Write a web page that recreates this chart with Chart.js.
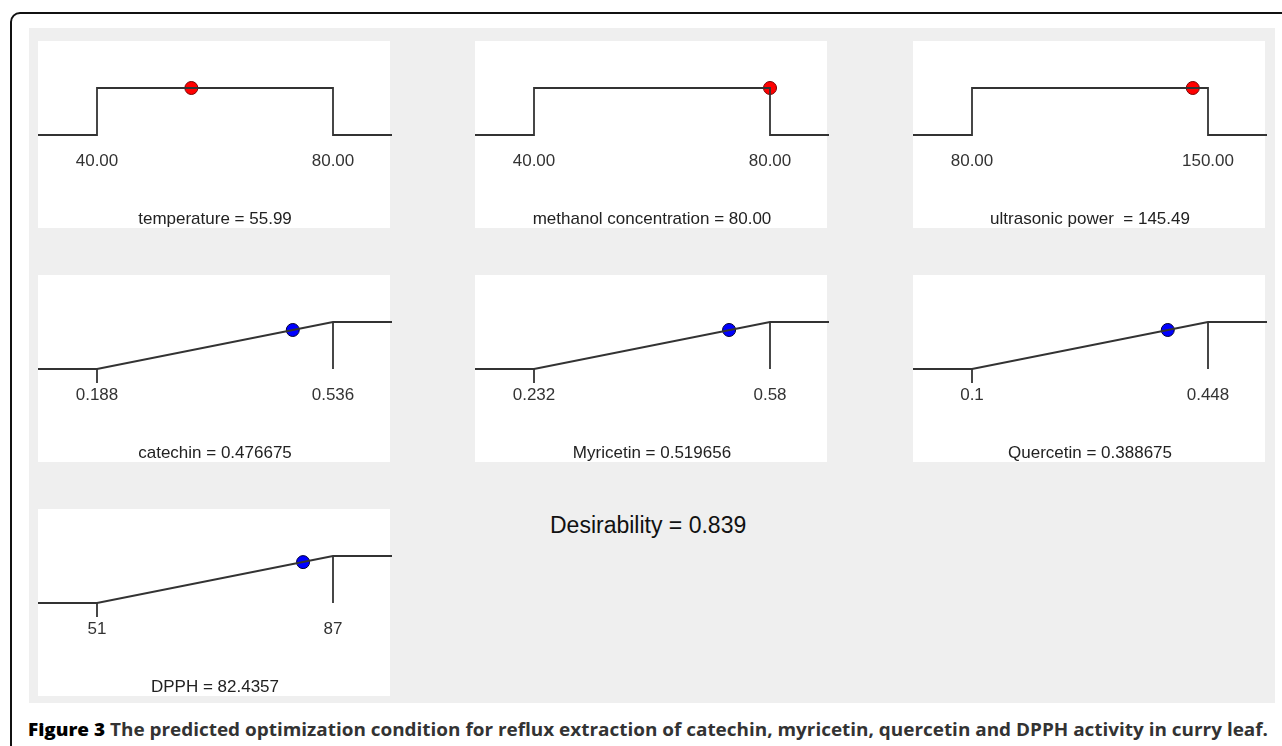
<!DOCTYPE html>
<html>
<head>
<meta charset="utf-8">
<script src="https://cdn.jsdelivr.net/npm/chart.js@4.4.1/dist/chart.umd.min.js"></script>
<style>
body { margin: 0; width: 1282px; height: 746px; overflow: hidden; background: #fff; position: relative; font-family: "Liberation Sans", Arial, sans-serif; }
#frame { position: absolute; left: 10px; top: 12px; width: 1320px; height: 800px; border: 2px solid #111; border-radius: 10px; }
#grey { position: absolute; left: 29px; top: 28px; width: 1246px; height: 675px; background: #efefef; }
.panel { position: absolute; width: 352px; height: 187px; background: #fff; }
.panel .cw { position: absolute; left: 0; top: 0; width: 354px; height: 187px; }
#desir { position: absolute; left: 550px; top: 512px; font-size: 23px; color: #111; white-space: nowrap; }
#caption { position: absolute; left: 28px; top: 718px; font-family: "Open Sans", sans-serif; font-weight: bold; font-size: 17px; color: #333; white-space: nowrap; transform-origin: 0 0; }
#caption b { color: #000; }
</style>
</head>
<body>
<div id="frame"></div>
<div id="grey"></div>
<div id="desir">Desirability = 0.839</div>
<div id="caption"><b>Figure 3</b> The predicted optimization condition for reflux extraction of catechin, myricetin, quercetin and DPPH activity in curry leaf.</div>

<script>
// --- DATOS ---
const factors = ['temperature', 'methanol concentration', 'ultrasonic power ', 'catechin', 'Myricetin', 'Quercetin', 'DPPH'];
const goals = ['range', 'range', 'range', 'max', 'max', 'max', 'max'];
const lows = [40, 40, 80, 0.188, 0.232, 0.1, 51];
const highs = [80, 80, 150, 0.536, 0.58, 0.448, 87];
const lowLabels = ['40.00', '40.00', '80.00', '0.188', '0.232', '0.1', '51'];
const highLabels = ['80.00', '80.00', '150.00', '0.536', '0.58', '0.448', '87'];
const optValues = [55.99, 80.00, 145.49, 0.476675, 0.519656, 0.388675, 82.4357];
const optLabels = ['55.99', '80.00', '145.49', '0.476675', '0.519656', '0.388675', '82.4357'];
const desirValues = [1, 1, 1, 0.83, 0.83, 0.83, 0.87];

// layout of the white panels (left, top)
const slots = [[38, 41], [475, 41], [913, 41], [38, 275], [475, 275], [913, 275], [38, 509]];

const lineColor = '#333';
const fontFam = '"Liberation Sans", Arial, sans-serif';

function makePanel(i) {
    const div = document.createElement('div');
    div.className = 'panel';
    div.style.left = slots[i][0] + 'px';
    div.style.top = slots[i][1] + 'px';
    const wrap = document.createElement('div');
    wrap.className = 'cw';
    const cv = document.createElement('canvas');
    wrap.appendChild(cv);
    div.appendChild(wrap);
    document.body.appendChild(div);

    const lo = lows[i], hi = highs[i], pad = (hi - lo) * 0.25;
    const xMin = lo - pad, xMax = hi + pad;
    const lineStyle = { borderColor: lineColor, borderWidth: 1.8, pointRadius: 0, tension: 0, fill: false, clip: false };

    let datasets;
    if (goals[i] === 'range') {
        datasets = [
            { ...lineStyle, data: [{ x: xMin, y: 0 }, { x: lo, y: 0 }, { x: lo, y: 1 }, { x: hi, y: 1 }, { x: hi, y: 0 }, { x: xMax, y: 0 }] }
        ];
    } else {
        datasets = [
            { ...lineStyle, data: [{ x: xMin, y: 0 }, { x: lo, y: 0 }, { x: hi, y: 1 }, { x: xMax, y: 1 }] },
            { ...lineStyle, data: [{ x: hi, y: 1 }, { x: hi, y: 0 }] },
            { ...lineStyle, data: [{ x: lo, y: 0 }, { x: lo, y: -0.3 }] }
        ];
    }
    const dotColor = goals[i] === 'range' ? '#ff0000' : '#0000ff';
    datasets.push({
        data: [{ x: optValues[i], y: desirValues[i] }],
        showLine: false, clip: false,
        pointRadius: 6.5, pointBackgroundColor: dotColor,
        pointBorderColor: goals[i] === 'range' ? '#700' : '#003', pointBorderWidth: 1
    });

    new Chart(cv, {
        type: 'line',
        data: { datasets },
        options: {
            responsive: true, maintainAspectRatio: false, animation: false,
            layout: { padding: 0, autoPadding: false },
            plugins: {
                legend: { display: false },
                tooltip: { enabled: false },
                title: {
                    display: true, position: 'bottom',
                    text: factors[i] + ' = ' + optLabels[i],
                    color: '#222',
                    font: { family: fontFam, size: 17, weight: 'normal', lineHeight: 1 },
                    padding: { top: 0, bottom: 0 }
                }
            },
            scales: {
                x: {
                    type: 'linear', min: xMin, max: xMax,
                    position: { y: -0.25 },
                    grid: { display: false, drawTicks: false },
                    border: { display: false },
                    afterBuildTicks: s => { s.ticks = [{ value: lo }, { value: hi }]; },
                    ticks: {
                        autoSkip: false, maxRotation: 0, padding: 4, color: '#333',
                        font: { family: fontFam, size: 17 },
                        callback: (v, idx) => idx === 0 ? lowLabels[i] : highLabels[i]
                    }
                },
                y: { display: false, min: -1.617, max: 2 }
            }
        }
    });
}

factors.forEach((f, i) => makePanel(i));

// ajustar ancho del pie de figura
const cap = document.getElementById('caption');
const w = cap.getBoundingClientRect().width;
cap.style.transform = 'scaleX(' + (1240 / w) + ')';
</script>
</body>
</html>
